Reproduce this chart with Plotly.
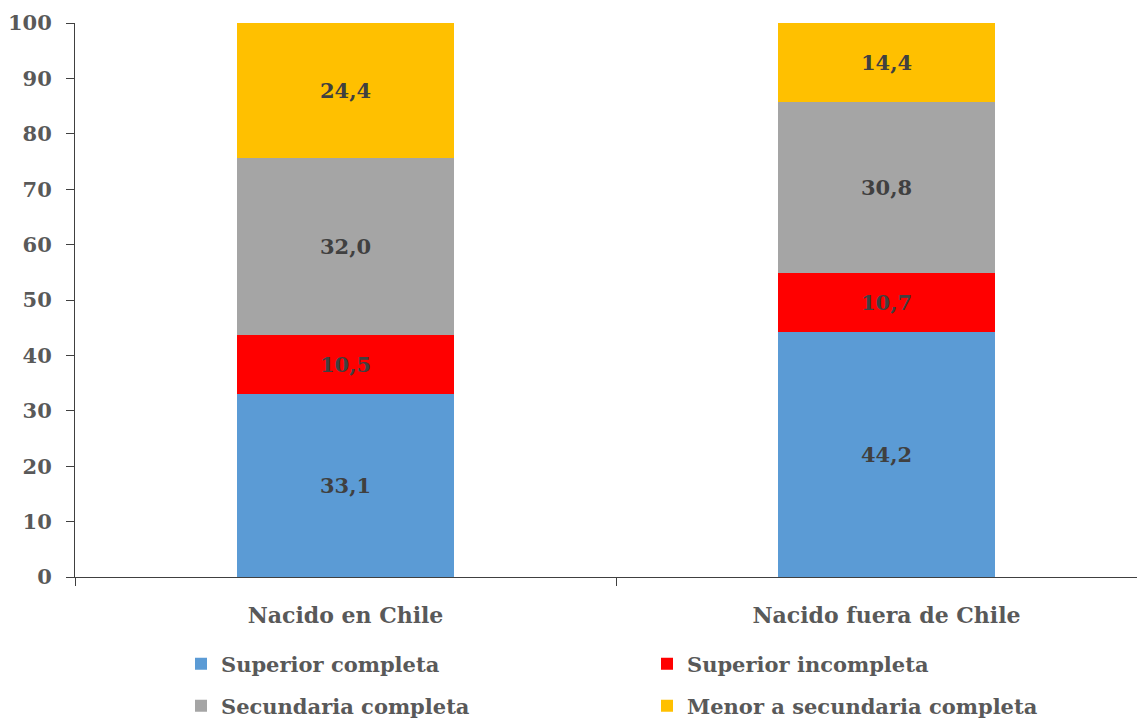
import plotly.graph_objects as go

grupos = ['Nacido en Chile', 'Nacido fuera de Chile']
sup_completa = [33.1, 44.2]
sup_incompleta = [10.5, 10.7]
sec_completa = [32.0, 30.8]
menor_sec = [24.4, 14.4]

series = [
    ('Superior completa', sup_completa, '#5B9BD5', 'legend'),
    ('Superior incompleta', sup_incompleta, '#FF0000', 'legend'),
    ('Secundaria completa', sec_completa, '#A5A5A5', 'legend2'),
    ('Menor a secundaria completa', menor_sec, '#FFC000', 'legend2'),
]

W, H = 1150, 719
font_fam = 'DejaVu Serif'
txt = dict(family=font_fam, size=21, color='#595959', weight='bold')

fig = go.Figure()
for name, vals, color, leg in series:
    fig.add_trace(go.Bar(
        x=grupos, y=vals, name=name, marker_color=color, marker_line_width=0, legend=leg,
        texttemplate='<b>%{y:.1f}</b>', textposition='inside', insidetextanchor='middle',
        textfont=dict(family=font_fam, size=21, color='#404040'),
    ))

legend_common = dict(orientation='h', xref='container', yref='container', xanchor='left', yanchor='middle',
                     entrywidth=421, entrywidthmode='pixels', font=txt, traceorder='normal',
                     bgcolor='rgba(0,0,0,0)')

fig.update_layout(
    barmode='stack', bargap=0.6, separators=',.',
    width=W, height=H,
    margin=dict(l=67, r=1, t=15, b=150, autoexpand=False),
    plot_bgcolor='white', paper_bgcolor='white',
    font=txt,
    uniformtext=dict(mode=False),
    legend=dict(x=(200 - 27) / W, y=1 - 656 / H, **legend_common),
    legend2=dict(x=(200 - 27) / W, y=1 - 698 / H, **legend_common),
)
fig.update_yaxes(range=[0, 100], dtick=10, showgrid=False, showline=True, linecolor='#404040',
                 linewidth=1, ticks='outside', ticklen=8, tickcolor='#404040', zeroline=False,
                 automargin=False, ticklabelstandoff=10)
fig.update_xaxes(showline=True, linecolor='#404040', linewidth=1, ticks='outside', ticklen=8,
                 tickcolor='#404040', tickson='boundaries', showgrid=False, automargin=False,
                 ticklabelstandoff=19, tickfont=dict(size=22))

fig.write_html('out.html')
